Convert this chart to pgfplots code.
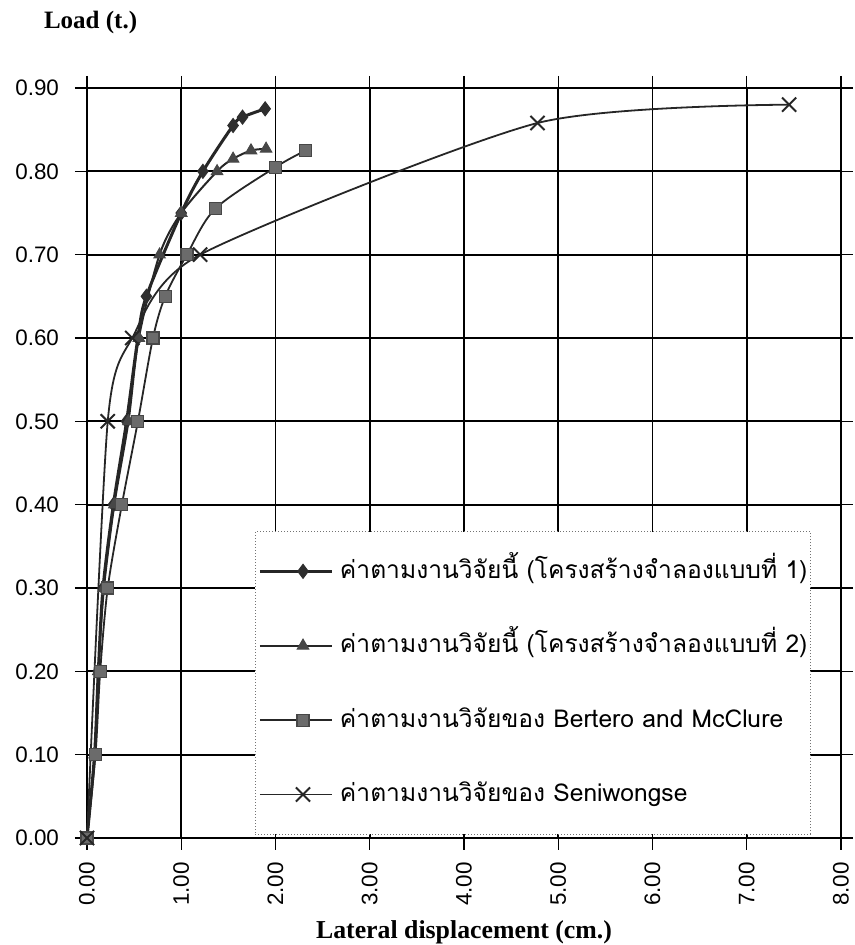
\documentclass[border=0pt]{standalone}
\usepackage{pgfplots}
\pgfplotsset{compat=1.18}
\usepackage{fontspec}
\setmainfont{Liberation Sans}
\newfontfamily\thaifont[Script=Thai]{Loma}
\newfontfamily\serifbf{Liberation Serif}
\definecolor{mkA}{gray}{0.18}
\definecolor{mkB}{gray}{0.28}
\definecolor{mkC}{gray}{0.42}
\definecolor{lnA}{gray}{0.15}
\newcommand{\lgtxt}[1]{\raisebox{-3.5pt}{#1}}

\pgfplotstableread{
x y
0 0
0.08 0.1
0.12 0.2
0.17 0.3
0.28 0.4
0.42 0.5
0.54 0.6
0.63 0.65
1.0 0.75
1.23 0.80
1.55 0.855
1.65 0.865
1.89 0.875
}\seriesA
\pgfplotstableread{
x y
0 0
0.08 0.1
0.12 0.2
0.18 0.3
0.29 0.4
0.44 0.5
0.55 0.6
0.77 0.70
1.0 0.75
1.38 0.80
1.55 0.815
1.74 0.825
1.90 0.827
}\seriesB
\pgfplotstableread{
x y
0 0
0.09 0.1
0.14 0.2
0.22 0.3
0.37 0.4
0.54 0.5
0.70 0.6
0.83 0.65
1.06 0.70
1.36 0.755
2.00 0.805
2.32 0.825
}\seriesC
\pgfplotstableread{
x y
0 0
0.22 0.5
0.48 0.6
1.20 0.70
4.78 0.858
7.45 0.880
}\seriesD

\begin{document}
\begin{tikzpicture}
\begin{axis}[
  name=ax, at={(0,0)}, anchor=south west,
  width=377pt, height=375pt, scale only axis,
  xmin=0, xmax=8, ymin=0, ymax=0.9,
  xtick={0,1,2,3,4,5,6,7,8},
  ytick={0,0.1,0.2,0.3,0.4,0.5,0.6,0.7,0.8,0.9},
  grid=major,
  major grid style={black, line width=0.9pt},
  axis line style={black, line width=1pt},
  tick align=outside, major tick length=6pt,
  tick style={black, line width=0.6pt},
  /pgf/number format/fixed,
  /pgf/number format/fixed zerofill,
  /pgf/number format/precision=2,
  /pgf/number format/assume math mode=true,
  ticklabel style={font=\fontsize{11.2}{13}\selectfont},
  xticklabel={\rotatebox{90}{\pgfmathprintnumber{\tick}}},
  xticklabel style={anchor=north, inner sep=0pt, yshift=-6pt},
  yticklabel style={anchor=east},
  yticklabel shift=4.5pt,
  clip=false,
  legend style={at={(0.2225,0.0045)}, anchor=south west,
    draw=black!55, densely dotted, line width=0.5pt, fill=white,
    inner xsep=1.5pt, inner ysep=13.8pt, row sep=25.2pt, column sep=3.5pt,
    font=\thaifont\fontsize{12.3}{14}\selectfont,
    nodes={solid, inner sep=0pt, text height=6pt, text depth=6pt}},
  legend cell align=left,
  legend image code/.code={\path (0cm,0cm) -- (0.26cm,0cm);
    \draw[mark repeat=2, mark phase=2]
    plot coordinates {(0.26cm,0cm) (0.76cm,0cm) (1.26cm,0cm)};},
]
\addplot[smooth, lnA, line width=1.5pt, mark=diamond*, mark size=3.5pt,
  mark options={fill=mkA, draw=mkA, solid, line width=0.5pt}] table {\seriesA};
\addlegendentry{\lgtxt{ค่าตามงานวิจัยนี้ (โครงสร้างจำลองแบบที่ 1)}}
\addplot[smooth, lnA, line width=1pt, mark=triangle*, mark size=3.3pt,
  mark options={fill=mkB, draw=mkB, solid, line width=0.5pt}] table {\seriesB};
\addlegendentry{\lgtxt{ค่าตามงานวิจัยนี้ (โครงสร้างจำลองแบบที่ 2)}}
\addplot[smooth, lnA, line width=0.9pt, mark=square*, mark size=3pt,
  mark options={fill=mkC, draw=mkB, solid, line width=0.6pt}] table {\seriesC};
\addlegendentry{\lgtxt{ค่าตามงานวิจัยของ Bertero and McClure}}
\addplot[smooth, tension=0.42, lnA, line width=0.9pt, mark=x, mark size=5pt,
  mark options={draw=lnA, solid, line width=1pt}] table {\seriesD};
\addlegendentry{\lgtxt{ค่าตามงานวิจัยของ Seniwongse}}
\end{axis}
\node[anchor=base west, font=\serifbf\bfseries\fontsize{12.5}{14}\selectfont]
  at ([shift={(-25pt,404.5pt)}]ax.south west) {Load (t.)};
\node[anchor=base, font=\serifbf\bfseries\fontsize{12.9}{14}\selectfont]
  at ([shift={(188.5pt,-50.5pt)}]ax.south west) {Lateral displacement (cm.)};
\pgfresetboundingbox
\path ([shift={(-43.5pt,-53.5pt)}]ax.south west) rectangle ([shift={(7pt,44pt)}]ax.north east);
\end{tikzpicture}
\end{document}
